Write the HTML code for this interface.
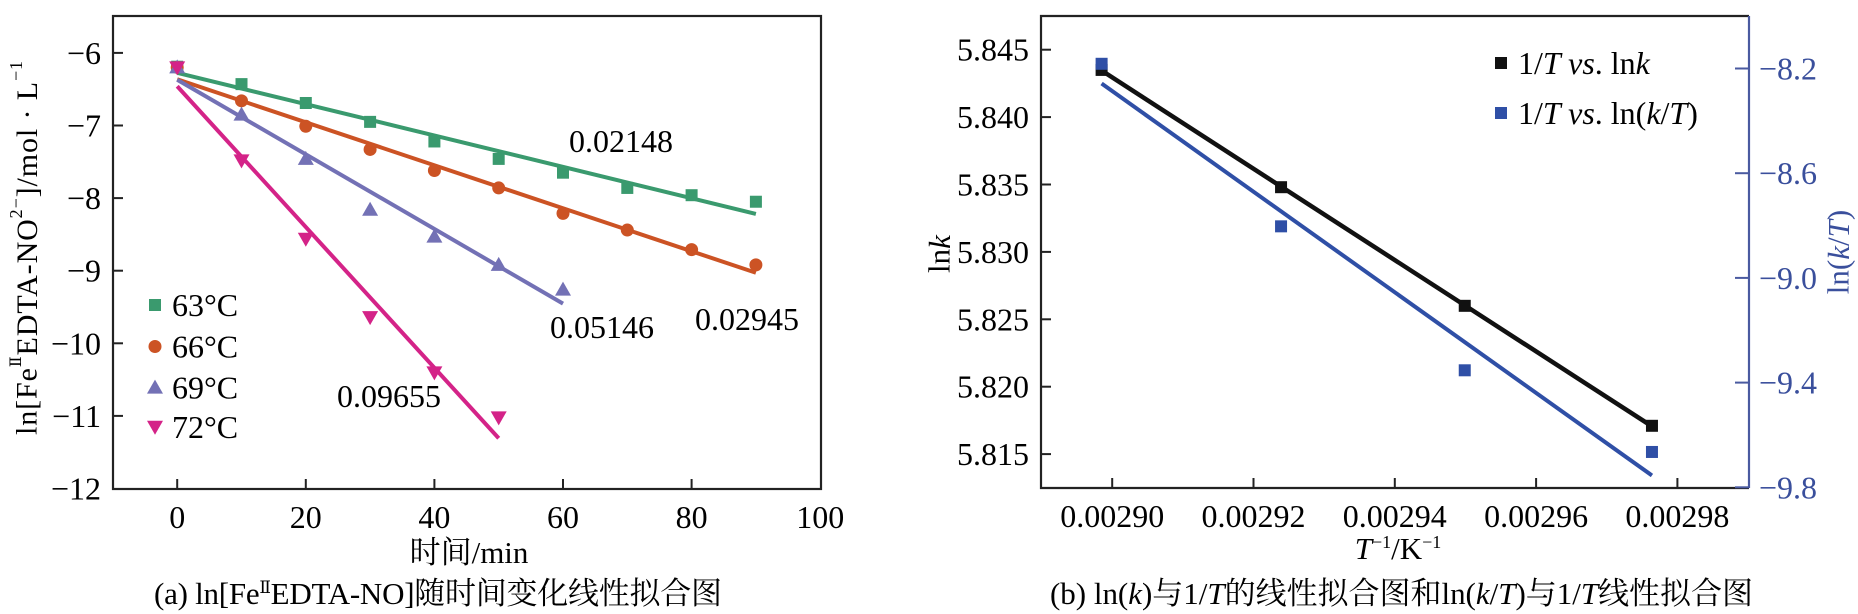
<!DOCTYPE html>
<html><head><meta charset="utf-8"><style>
html,body{margin:0;padding:0;background:#fff;}
svg, svg text{font-family:"Liberation Serif","DejaVu Serif","Noto Serif CJK SC",serif;}
svg{display:block;}
</style></head><body>
<svg id="fig" width="1858" height="614" viewBox="0 0 1858 614" xmlns="http://www.w3.org/2000/svg">
<g id="left"></g>
<g id="right"></g>
<text x="27" y="248" font-size="30" text-anchor="middle" dominant-baseline="central" transform="rotate(-90 27 248)" textLength="374">ln[Fe<tspan font-size="16" dy="-11">Ⅱ</tspan><tspan dy="11">EDTA-NO</tspan><tspan font-size="18" dy="-11">2−</tspan><tspan dy="11">]/mol · L</tspan><tspan font-size="18" dy="-11">−1</tspan></text>
<text x="469" y="563" font-size="31" text-anchor="middle">时间/min</text>
<text x="154" y="604" font-size="31" textLength="568">(a) ln[Fe<tspan font-size="17" dy="-11">Ⅱ</tspan><tspan dy="11">EDTA-NO]随时间变化线性拟合图</tspan></text>
<text x="939" y="254" font-size="31" text-anchor="middle" dominant-baseline="central" transform="rotate(-90 939 254)">ln<tspan font-style="italic">k</tspan></text>
<text x="1838" y="252" font-size="31" fill="#3a4f9c" text-anchor="middle" dominant-baseline="central" transform="rotate(-90 1838 252)">ln(<tspan font-style="italic">k</tspan>/<tspan font-style="italic">T</tspan>)</text>
<text x="1398" y="559" font-size="31" text-anchor="middle"><tspan font-style="italic">T</tspan><tspan font-size="18" dy="-11">−1</tspan><tspan dy="11">/K</tspan><tspan font-size="18" dy="-11">−1</tspan></text>
<text x="1050" y="604" font-size="31" textLength="703">(b) ln(<tspan font-style="italic">k</tspan>)与1/<tspan font-style="italic">T</tspan>的线性拟合图和ln(<tspan font-style="italic">k</tspan>/<tspan font-style="italic">T</tspan>)与1/<tspan font-style="italic">T</tspan>线性拟合图</text>
</svg>
<script>
// ---- Left chart data ----
const timeCats = [0,10,20,30,40,50,60,70,80,90];
const seriesNames = ["63°C","66°C","69°C","72°C"];
const s63 = [-6.19,-6.43,-6.69,-6.95,-7.22,-7.46,-7.65,-7.86,-7.96,-8.05];
const s66 = [-6.2,-6.66,-7.01,-7.33,-7.62,-7.86,-8.21,-8.44,-8.71,-8.92];
const s69 = [-6.2,-6.85,-7.46,-8.16,-8.53,-8.92,-9.26];
const s72 = [-6.2,-7.48,-8.56,-9.64,-10.40,-11.02];
const slopeLabels = ["0.02148","0.02945","0.05146","0.09655"];
const leftXTicks = [0,20,40,60,80,100];
const leftYTicks = [-6,-7,-8,-9,-10,-11,-12];
// ---- Right chart data ----
const invT = [0.0028985,0.0029239,0.0029499,0.0029764];
const lnK = [5.8435,5.8348,5.8260,5.8171];
const lnKT = [-8.182,-8.803,-9.353,-9.665];
const rightXTicks = ["0.00290","0.00292","0.00294","0.00296","0.00298"];
const rightYTicks = ["5.845","5.840","5.835","5.830","5.825","5.820","5.815"];
const rightY2Ticks = ["-8.2","-8.6","-9.0","-9.4","-9.8"];

const NS="http://www.w3.org/2000/svg";
const FS=32;
function mk(parent,tag,attrs){const e=document.createElementNS(NS,tag);for(const k in attrs)e.setAttribute(k,attrs[k]);parent.appendChild(e);return e;}
function fit(xs,ys){const n=xs.length;let mx=0,my=0;for(let i=0;i<n;i++){mx+=xs[i];my+=ys[i];}mx/=n;my/=n;let sxy=0,sxx=0;for(let i=0;i<n;i++){sxy+=(xs[i]-mx)*(ys[i]-my);sxx+=(xs[i]-mx)**2;}const b=sxy/sxx;return {b:b,a:my-b*mx};}
function marker(g,type,cx,cy,color){
  let e;
  if(type==='sq'){e=mk(g,'rect',{x:cx-6,y:cy-6,width:12,height:12,fill:color});}
  else if(type==='ci'){e=mk(g,'circle',{cx:cx,cy:cy,r:6.5,fill:color});}
  else if(type==='up'){e=mk(g,'polygon',{points:`${cx},${cy-8} ${cx-8},${cy+6} ${cx+8},${cy+6}`,fill:color});}
  else {e=mk(g,'polygon',{points:`${cx},${cy+8} ${cx-8},${cy-6} ${cx+8},${cy-6}`,fill:color});}
  return e;
}
function txt(g,x,y,s,attrs){const t=mk(g,'text',Object.assign({x:x,y:y,'font-size':FS},attrs||{}));t.textContent=s;return t;}

// ---- Left chart ----
(function(){
  const g=document.getElementById('left');
  const L=113,R=821,T=16,B=489;
  const xs=t=>177.2+6.43*t;
  const ys=v=>52.9+(-6-v)*72.6;
  const frame=mk(g,'rect',{x:L,y:T,width:R-L,height:B-T,fill:'none',stroke:'#222','stroke-width':2.2});
  
  
  leftXTicks.forEach(v=>{
    const x=xs(v);
    if(v<100){const tk=mk(g,'line',{x1:x,y1:B,x2:x,y2:B-10,stroke:'#222','stroke-width':2});
    
    }
    const t=txt(g,x,B+39,String(v),{'text-anchor':'middle'});
    
    
  });
  leftYTicks.forEach(v=>{
    const y=ys(v);
    if(v>-12){const tk=mk(g,'line',{x1:L,y1:y,x2:L+10,y2:y,stroke:'#222','stroke-width':2});
    
    }
    const t=txt(g,L-12,y+11,String(v).replace('-','−'),{'text-anchor':'end'});
    
    
  });
  const series=[s63,s66,s69,s72];
  const colors=['#3a9a6e','#cc5324','#7371b5','#d42388'];
  const types=['sq','ci','up','dn'];
  const names=['series-63c','series-66c','series-69c','series-72c'];
  series.forEach((d,i)=>{
    const tx=timeCats.slice(0,d.length);
    const f=fit(tx,d);
    const t0=tx[0],t1=tx[tx.length-1];
    const ln=mk(g,'line',{x1:xs(t0),y1:ys(f.a+f.b*t0),x2:xs(t1),y2:ys(f.a+f.b*t1),stroke:colors[i],'stroke-width':4});
    
    
    d.forEach((v,j)=>{
      const m=marker(g,types[i],xs(tx[j]),ys(v),colors[i]);
      
      
    });
    const ly=[305,346.5,387.6,426.8][i];
    const lm=marker(g,types[i],155,ly,colors[i]);
    
    
    const lt=txt(g,172,ly+11,seriesNames[i]);
    
    
  });
  const annPos=[[569,152],[695,330],[550,338],[337,407]];
  slopeLabels.forEach((s,i)=>{
    const t=txt(g,annPos[i][0],annPos[i][1],s);
    
    
  });
})();

// ---- Right chart ----
(function(){
  const g=document.getElementById('right');
  const L=1041,R=1749,T=16,B=488;
  const xs=v=>1112.2+(v-0.0029)*7.065e6;
  const ys=v=>49.7+(5.845-v)*13480;
  const ys2=v=>68.5+(-8.2-v)*261.75;
  const fr=mk(g,'path',{d:`M${R},${T} L${L},${T} L${L},${B} L${R},${B}`,fill:'none',stroke:'#222','stroke-width':2.2});
  
  
  const ax2=mk(g,'line',{x1:R,y1:T,x2:R,y2:B,stroke:'#4a5aa0','stroke-width':2.2});
  
  
  rightXTicks.forEach(s=>{
    const x=xs(parseFloat(s));
    const tk=mk(g,'line',{x1:x,y1:B,x2:x,y2:B-10,stroke:'#222','stroke-width':2});
    
    
    const t=txt(g,x,B+39,s,{'text-anchor':'middle'});
    
    
  });
  rightYTicks.forEach(s=>{
    const y=ys(parseFloat(s));
    const tk=mk(g,'line',{x1:L,y1:y,x2:L+10,y2:y,stroke:'#222','stroke-width':2});
    
    
    const t=txt(g,L-12,y+11,s,{'text-anchor':'end'});
    
    
  });
  rightY2Ticks.forEach(s=>{
    const y=ys2(parseFloat(s));
    const tk=mk(g,'line',{x1:R,y1:y,x2:R-14,y2:y,stroke:'#4a5aa0','stroke-width':2});
    
    
    const t=txt(g,R+10,y+11,s.replace('-','−'),{fill:'#3a4f9c'});
    
    
  });
  const x0=invT[0],x1=invT[invT.length-1];
  const fb=fit(invT,lnKT);
  const bl=mk(g,'line',{x1:xs(x0),y1:ys2(fb.a+fb.b*x0),x2:xs(x1),y2:ys2(fb.a+fb.b*x1),stroke:'#2f4fa6','stroke-width':4});
  
  
  const fk=fit(invT,lnK);
  const kl=mk(g,'line',{x1:xs(x0),y1:ys(fk.a+fk.b*x0),x2:xs(x1),y2:ys(fk.a+fk.b*x1),stroke:'#111','stroke-width':4.5});
  
  
  invT.forEach((v,i)=>{
    const m=marker(g,'sq',xs(v),ys(lnK[i]),'#111');
    
    
    const m2=marker(g,'sq',xs(v),ys2(lnKT[i]),'#2f4fa6');
    
    
  });
  const lm1=mk(g,'rect',{x:1495,y:57,width:12,height:12,fill:'#111'});
  
  
  const lm2=mk(g,'rect',{x:1495,y:107,width:12,height:12,fill:'#2f4fa6'});
  
  
  const t1=mk(g,'text',{x:1518,y:74,'font-size':FS});
  t1.innerHTML='1/<tspan font-style="italic">T vs</tspan>. ln<tspan font-style="italic">k</tspan>';
  
  
  const t2=mk(g,'text',{x:1518,y:124,'font-size':FS});
  t2.innerHTML='1/<tspan font-style="italic">T vs</tspan>. ln(<tspan font-style="italic">k</tspan>/<tspan font-style="italic">T</tspan>)';
  
  
})();
</script>
</body></html>
